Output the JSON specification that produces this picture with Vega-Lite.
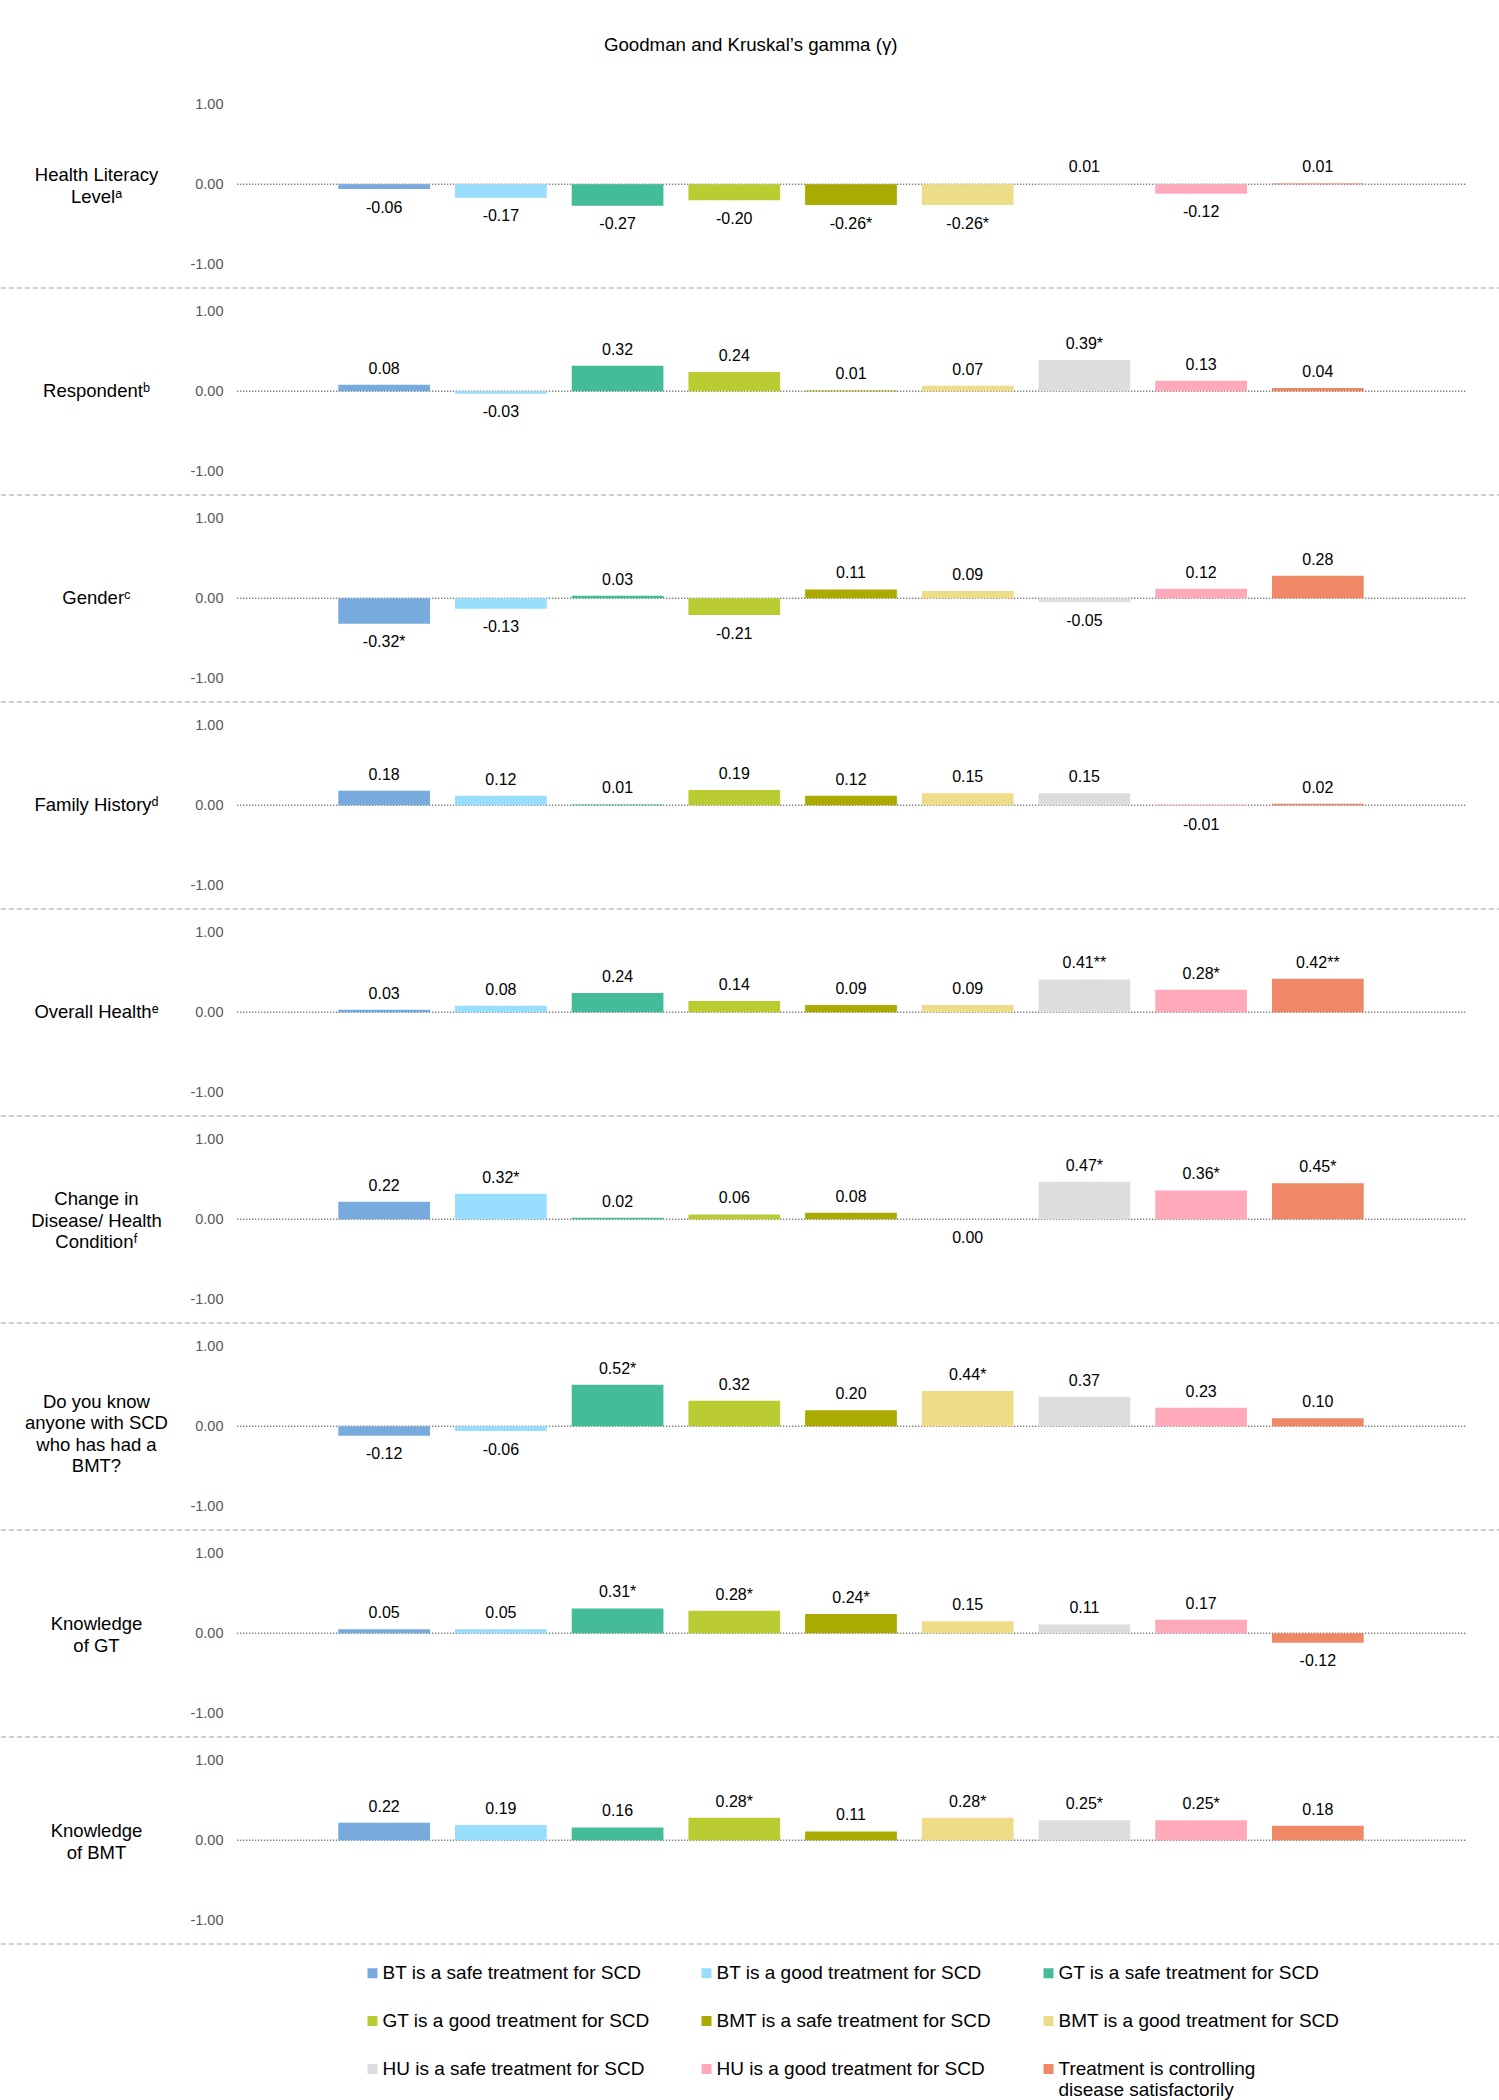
{
  "$schema": "https://vega.github.io/schema/vega-lite/v6.json",
  "padding": {"top": 35, "left": 0, "right": 0, "bottom": 0},
  "title": {"text": "Goodman and Kruskal’s gamma (γ)", "fontSize": 18.7, "fontWeight": "normal", "font": "Liberation Sans", "color": "#000000", "anchor": "middle", "offset": 26.5},
  "data": {"values": [
    {"factor": "Health Literacy\nLevelᵃ", "treatment": "BT is a safe treatment for SCD", "gamma": -0.06, "label": "-0.06"},
    {"factor": "Health Literacy\nLevelᵃ", "treatment": "BT is a good treatment for SCD", "gamma": -0.17, "label": "-0.17"},
    {"factor": "Health Literacy\nLevelᵃ", "treatment": "GT is a safe treatment for SCD", "gamma": -0.27, "label": "-0.27"},
    {"factor": "Health Literacy\nLevelᵃ", "treatment": "GT is a good treatment for SCD", "gamma": -0.20, "label": "-0.20"},
    {"factor": "Health Literacy\nLevelᵃ", "treatment": "BMT is a safe treatment for SCD", "gamma": -0.26, "label": "-0.26*"},
    {"factor": "Health Literacy\nLevelᵃ", "treatment": "BMT is a good treatment for SCD", "gamma": -0.26, "label": "-0.26*"},
    {"factor": "Health Literacy\nLevelᵃ", "treatment": "HU is a safe treatment for SCD", "gamma": 0.01, "label": "0.01"},
    {"factor": "Health Literacy\nLevelᵃ", "treatment": "HU is a good treatment for SCD", "gamma": -0.12, "label": "-0.12"},
    {"factor": "Health Literacy\nLevelᵃ", "treatment": "Treatment is controlling disease satisfactorily", "gamma": 0.01, "label": "0.01"},
    {"factor": "Respondentᵇ", "treatment": "BT is a safe treatment for SCD", "gamma": 0.08, "label": "0.08"},
    {"factor": "Respondentᵇ", "treatment": "BT is a good treatment for SCD", "gamma": -0.03, "label": "-0.03"},
    {"factor": "Respondentᵇ", "treatment": "GT is a safe treatment for SCD", "gamma": 0.32, "label": "0.32"},
    {"factor": "Respondentᵇ", "treatment": "GT is a good treatment for SCD", "gamma": 0.24, "label": "0.24"},
    {"factor": "Respondentᵇ", "treatment": "BMT is a safe treatment for SCD", "gamma": 0.01, "label": "0.01"},
    {"factor": "Respondentᵇ", "treatment": "BMT is a good treatment for SCD", "gamma": 0.07, "label": "0.07"},
    {"factor": "Respondentᵇ", "treatment": "HU is a safe treatment for SCD", "gamma": 0.39, "label": "0.39*"},
    {"factor": "Respondentᵇ", "treatment": "HU is a good treatment for SCD", "gamma": 0.13, "label": "0.13"},
    {"factor": "Respondentᵇ", "treatment": "Treatment is controlling disease satisfactorily", "gamma": 0.04, "label": "0.04"},
    {"factor": "Genderᶜ", "treatment": "BT is a safe treatment for SCD", "gamma": -0.32, "label": "-0.32*"},
    {"factor": "Genderᶜ", "treatment": "BT is a good treatment for SCD", "gamma": -0.13, "label": "-0.13"},
    {"factor": "Genderᶜ", "treatment": "GT is a safe treatment for SCD", "gamma": 0.03, "label": "0.03"},
    {"factor": "Genderᶜ", "treatment": "GT is a good treatment for SCD", "gamma": -0.21, "label": "-0.21"},
    {"factor": "Genderᶜ", "treatment": "BMT is a safe treatment for SCD", "gamma": 0.11, "label": "0.11"},
    {"factor": "Genderᶜ", "treatment": "BMT is a good treatment for SCD", "gamma": 0.09, "label": "0.09"},
    {"factor": "Genderᶜ", "treatment": "HU is a safe treatment for SCD", "gamma": -0.05, "label": "-0.05"},
    {"factor": "Genderᶜ", "treatment": "HU is a good treatment for SCD", "gamma": 0.12, "label": "0.12"},
    {"factor": "Genderᶜ", "treatment": "Treatment is controlling disease satisfactorily", "gamma": 0.28, "label": "0.28"},
    {"factor": "Family Historyᵈ", "treatment": "BT is a safe treatment for SCD", "gamma": 0.18, "label": "0.18"},
    {"factor": "Family Historyᵈ", "treatment": "BT is a good treatment for SCD", "gamma": 0.12, "label": "0.12"},
    {"factor": "Family Historyᵈ", "treatment": "GT is a safe treatment for SCD", "gamma": 0.01, "label": "0.01"},
    {"factor": "Family Historyᵈ", "treatment": "GT is a good treatment for SCD", "gamma": 0.19, "label": "0.19"},
    {"factor": "Family Historyᵈ", "treatment": "BMT is a safe treatment for SCD", "gamma": 0.12, "label": "0.12"},
    {"factor": "Family Historyᵈ", "treatment": "BMT is a good treatment for SCD", "gamma": 0.15, "label": "0.15"},
    {"factor": "Family Historyᵈ", "treatment": "HU is a safe treatment for SCD", "gamma": 0.15, "label": "0.15"},
    {"factor": "Family Historyᵈ", "treatment": "HU is a good treatment for SCD", "gamma": -0.01, "label": "-0.01"},
    {"factor": "Family Historyᵈ", "treatment": "Treatment is controlling disease satisfactorily", "gamma": 0.02, "label": "0.02"},
    {"factor": "Overall Healthᵉ", "treatment": "BT is a safe treatment for SCD", "gamma": 0.03, "label": "0.03"},
    {"factor": "Overall Healthᵉ", "treatment": "BT is a good treatment for SCD", "gamma": 0.08, "label": "0.08"},
    {"factor": "Overall Healthᵉ", "treatment": "GT is a safe treatment for SCD", "gamma": 0.24, "label": "0.24"},
    {"factor": "Overall Healthᵉ", "treatment": "GT is a good treatment for SCD", "gamma": 0.14, "label": "0.14"},
    {"factor": "Overall Healthᵉ", "treatment": "BMT is a safe treatment for SCD", "gamma": 0.09, "label": "0.09"},
    {"factor": "Overall Healthᵉ", "treatment": "BMT is a good treatment for SCD", "gamma": 0.09, "label": "0.09"},
    {"factor": "Overall Healthᵉ", "treatment": "HU is a safe treatment for SCD", "gamma": 0.41, "label": "0.41**"},
    {"factor": "Overall Healthᵉ", "treatment": "HU is a good treatment for SCD", "gamma": 0.28, "label": "0.28*"},
    {"factor": "Overall Healthᵉ", "treatment": "Treatment is controlling disease satisfactorily", "gamma": 0.42, "label": "0.42**"},
    {"factor": "Change in\nDisease/ Health\nConditionᶠ", "treatment": "BT is a safe treatment for SCD", "gamma": 0.22, "label": "0.22"},
    {"factor": "Change in\nDisease/ Health\nConditionᶠ", "treatment": "BT is a good treatment for SCD", "gamma": 0.32, "label": "0.32*"},
    {"factor": "Change in\nDisease/ Health\nConditionᶠ", "treatment": "GT is a safe treatment for SCD", "gamma": 0.02, "label": "0.02"},
    {"factor": "Change in\nDisease/ Health\nConditionᶠ", "treatment": "GT is a good treatment for SCD", "gamma": 0.06, "label": "0.06"},
    {"factor": "Change in\nDisease/ Health\nConditionᶠ", "treatment": "BMT is a safe treatment for SCD", "gamma": 0.08, "label": "0.08"},
    {"factor": "Change in\nDisease/ Health\nConditionᶠ", "treatment": "BMT is a good treatment for SCD", "gamma": 0.00, "label": "0.00"},
    {"factor": "Change in\nDisease/ Health\nConditionᶠ", "treatment": "HU is a safe treatment for SCD", "gamma": 0.47, "label": "0.47*"},
    {"factor": "Change in\nDisease/ Health\nConditionᶠ", "treatment": "HU is a good treatment for SCD", "gamma": 0.36, "label": "0.36*"},
    {"factor": "Change in\nDisease/ Health\nConditionᶠ", "treatment": "Treatment is controlling disease satisfactorily", "gamma": 0.45, "label": "0.45*"},
    {"factor": "Do you know\nanyone with SCD\nwho has had a\nBMT?", "treatment": "BT is a safe treatment for SCD", "gamma": -0.12, "label": "-0.12"},
    {"factor": "Do you know\nanyone with SCD\nwho has had a\nBMT?", "treatment": "BT is a good treatment for SCD", "gamma": -0.06, "label": "-0.06"},
    {"factor": "Do you know\nanyone with SCD\nwho has had a\nBMT?", "treatment": "GT is a safe treatment for SCD", "gamma": 0.52, "label": "0.52*"},
    {"factor": "Do you know\nanyone with SCD\nwho has had a\nBMT?", "treatment": "GT is a good treatment for SCD", "gamma": 0.32, "label": "0.32"},
    {"factor": "Do you know\nanyone with SCD\nwho has had a\nBMT?", "treatment": "BMT is a safe treatment for SCD", "gamma": 0.20, "label": "0.20"},
    {"factor": "Do you know\nanyone with SCD\nwho has had a\nBMT?", "treatment": "BMT is a good treatment for SCD", "gamma": 0.44, "label": "0.44*"},
    {"factor": "Do you know\nanyone with SCD\nwho has had a\nBMT?", "treatment": "HU is a safe treatment for SCD", "gamma": 0.37, "label": "0.37"},
    {"factor": "Do you know\nanyone with SCD\nwho has had a\nBMT?", "treatment": "HU is a good treatment for SCD", "gamma": 0.23, "label": "0.23"},
    {"factor": "Do you know\nanyone with SCD\nwho has had a\nBMT?", "treatment": "Treatment is controlling disease satisfactorily", "gamma": 0.10, "label": "0.10"},
    {"factor": "Knowledge\nof GT", "treatment": "BT is a safe treatment for SCD", "gamma": 0.05, "label": "0.05"},
    {"factor": "Knowledge\nof GT", "treatment": "BT is a good treatment for SCD", "gamma": 0.05, "label": "0.05"},
    {"factor": "Knowledge\nof GT", "treatment": "GT is a safe treatment for SCD", "gamma": 0.31, "label": "0.31*"},
    {"factor": "Knowledge\nof GT", "treatment": "GT is a good treatment for SCD", "gamma": 0.28, "label": "0.28*"},
    {"factor": "Knowledge\nof GT", "treatment": "BMT is a safe treatment for SCD", "gamma": 0.24, "label": "0.24*"},
    {"factor": "Knowledge\nof GT", "treatment": "BMT is a good treatment for SCD", "gamma": 0.15, "label": "0.15"},
    {"factor": "Knowledge\nof GT", "treatment": "HU is a safe treatment for SCD", "gamma": 0.11, "label": "0.11"},
    {"factor": "Knowledge\nof GT", "treatment": "HU is a good treatment for SCD", "gamma": 0.17, "label": "0.17"},
    {"factor": "Knowledge\nof GT", "treatment": "Treatment is controlling disease satisfactorily", "gamma": -0.12, "label": "-0.12"},
    {"factor": "Knowledge\nof BMT", "treatment": "BT is a safe treatment for SCD", "gamma": 0.22, "label": "0.22"},
    {"factor": "Knowledge\nof BMT", "treatment": "BT is a good treatment for SCD", "gamma": 0.19, "label": "0.19"},
    {"factor": "Knowledge\nof BMT", "treatment": "GT is a safe treatment for SCD", "gamma": 0.16, "label": "0.16"},
    {"factor": "Knowledge\nof BMT", "treatment": "GT is a good treatment for SCD", "gamma": 0.28, "label": "0.28*"},
    {"factor": "Knowledge\nof BMT", "treatment": "BMT is a safe treatment for SCD", "gamma": 0.11, "label": "0.11"},
    {"factor": "Knowledge\nof BMT", "treatment": "BMT is a good treatment for SCD", "gamma": 0.28, "label": "0.28*"},
    {"factor": "Knowledge\nof BMT", "treatment": "HU is a safe treatment for SCD", "gamma": 0.25, "label": "0.25*"},
    {"factor": "Knowledge\nof BMT", "treatment": "HU is a good treatment for SCD", "gamma": 0.25, "label": "0.25*"},
    {"factor": "Knowledge\nof BMT", "treatment": "Treatment is controlling disease satisfactorily", "gamma": 0.18, "label": "0.18"}
  ]},
  "facet": {
    "row": {
      "field": "factor", "type": "nominal", "header": null, "title": null,
      "sort": ["Health Literacy\nLevelᵃ", "Respondentᵇ", "Genderᶜ", "Family Historyᵈ", "Overall Healthᵉ", "Change in\nDisease/ Health\nConditionᶠ", "Do you know\nanyone with SCD\nwho has had a\nBMT?", "Knowledge\nof GT", "Knowledge\nof BMT"]
    }
  },
  "spacing": 0,
  "bounds": "flush",
  "spec": {
    "width": 1499,
    "height": 207,
    "encoding": {
      "x": {
        "field": "treatment", "type": "nominal", "axis": null,
        "sort": ["BT is a safe treatment for SCD", "BT is a good treatment for SCD", "GT is a safe treatment for SCD", "GT is a good treatment for SCD", "BMT is a safe treatment for SCD", "BMT is a good treatment for SCD", "HU is a safe treatment for SCD", "HU is a good treatment for SCD", "Treatment is controlling disease satisfactorily"],
        "scale": {"range": [236, 1464], "paddingInner": 0.214, "paddingOuter": 0.868, "align": 0.495}
      }
    },
    "layer": [
      {
        "transform": [{"filter": "datum.treatment == 'BT is a safe treatment for SCD'"}],
        "mark": {"type": "rule", "strokeDash": [1.2, 1.8], "strokeWidth": 1.4, "color": "#737373"},
        "encoding": {
          "x": {"datum": "BT is a safe treatment for SCD", "bandPosition": -1.103},
          "x2": {"datum": "Treatment is controlling disease satisfactorily", "bandPosition": 2.115},
          "y": {"datum": 0, "type": "quantitative"}
        }
      },
      {
        "mark": {"type": "bar"},
        "encoding": {
          "y": {
            "field": "gamma", "type": "quantitative",
            "scale": {"domain": [-1.296, 1.29], "nice": false, "zero": false},
            "axis": {"values": [-1, 0, 1], "format": ".2f", "labelExpr": "replace(datum.label, '−', '-')", "domain": false, "ticks": false, "grid": false, "title": null, "orient": "left", "offset": -226, "labelPadding": 5, "labelFontSize": 14.5, "labelColor": "#595959", "labelFont": "Liberation Sans"}
          },
          "y2": {"datum": 0},
          "color": {
            "field": "treatment", "type": "nominal",
            "scale": {
              "domain": ["BT is a safe treatment for SCD", "BT is a good treatment for SCD", "GT is a safe treatment for SCD", "GT is a good treatment for SCD", "BMT is a safe treatment for SCD", "BMT is a good treatment for SCD", "HU is a safe treatment for SCD", "HU is a good treatment for SCD", "Treatment is controlling disease satisfactorily"],
              "range": ["#77AADD", "#99DDFF", "#44BB99", "#BBCC33", "#AAAA00", "#EEDD88", "#DDDDDD", "#FFAABB", "#EE8866"]
            },
            "legend": {
              "title": null, "orient": "none", "legendX": 361, "legendY": 1882.5, "columns": 3, "direction": "horizontal",
              "gridAlign": "each", "columnPadding": 47, "rowPadding": 28, "symbolType": "square", "symbolSize": 100, "symbolStrokeWidth": 0,
              "labelFontSize": 19, "labelFont": "Liberation Sans", "labelColor": "#000000", "labelOffset": 0.5, "labelLimit": 400, "labelLineHeight": 22, "labelBaseline": "middle",
              "labelExpr": "datum.label == 'Treatment is controlling disease satisfactorily' ? ['Treatment is controlling', 'disease satisfactorily'] : datum.label"
            }
          }
        }
      },
      {
        "transform": [{"filter": "datum.treatment == 'BT is a safe treatment for SCD'"}],
        "mark": {"type": "rule", "strokeDash": [5, 3], "strokeWidth": 1.6, "color": "#BFBFBF"},
        "encoding": {
          "x": {"datum": "BT is a safe treatment for SCD", "bandPosition": -3.678},
          "x2": {"datum": "Treatment is controlling disease satisfactorily", "bandPosition": 2.491},
          "y": {"datum": -1.296, "type": "quantitative"}
        }
      },
      {
        "transform": [{"filter": "datum.treatment == 'BT is a safe treatment for SCD' && length(split(datum.factor, '\\n')) == 1"}],
        "mark": {"type": "text", "fontSize": 18.5, "font": "Liberation Sans", "color": "#000000", "align": "center", "baseline": "middle", "lineBreak": "\n", "lineHeight": 21.4},
        "encoding": {
          "x": {"field": "treatment", "type": "nominal", "bandPosition": -2.636},
          "y": {"datum": 0, "type": "quantitative"},
          "text": {"field": "factor"}
        }
      },
      {
        "transform": [{"filter": "datum.treatment == 'BT is a safe treatment for SCD' && length(split(datum.factor, '\\n')) == 2"}],
        "mark": {"type": "text", "fontSize": 18.5, "font": "Liberation Sans", "color": "#000000", "align": "center", "baseline": "middle", "lineBreak": "\n", "lineHeight": 21.4, "dy": -9},
        "encoding": {
          "x": {"field": "treatment", "type": "nominal", "bandPosition": -2.636},
          "y": {"datum": 0, "type": "quantitative"},
          "text": {"field": "factor"}
        }
      },
      {
        "transform": [{"filter": "datum.treatment == 'BT is a safe treatment for SCD' && length(split(datum.factor, '\\n')) == 3"}],
        "mark": {"type": "text", "fontSize": 18.5, "font": "Liberation Sans", "color": "#000000", "align": "center", "baseline": "middle", "lineBreak": "\n", "lineHeight": 21.4, "dy": -20},
        "encoding": {
          "x": {"field": "treatment", "type": "nominal", "bandPosition": -2.636},
          "y": {"datum": 0, "type": "quantitative"},
          "text": {"field": "factor"}
        }
      },
      {
        "transform": [{"filter": "datum.treatment == 'BT is a safe treatment for SCD' && length(split(datum.factor, '\\n')) == 4"}],
        "mark": {"type": "text", "fontSize": 18.5, "font": "Liberation Sans", "color": "#000000", "align": "center", "baseline": "middle", "lineBreak": "\n", "lineHeight": 21.4, "dy": -24.5},
        "encoding": {
          "x": {"field": "treatment", "type": "nominal", "bandPosition": -2.636},
          "y": {"datum": 0, "type": "quantitative"},
          "text": {"field": "factor"}
        }
      },
      {
        "transform": [{"filter": "datum.gamma > 0"}],
        "mark": {"type": "text", "fontSize": 16, "font": "Liberation Sans", "color": "#000000", "align": "center", "baseline": "alphabetic", "dy": -11},
        "encoding": {
          "y": {"field": "gamma", "type": "quantitative"},
          "text": {"field": "label"}
        }
      },
      {
        "transform": [{"filter": "datum.gamma <= 0"}],
        "mark": {"type": "text", "fontSize": 16, "font": "Liberation Sans", "color": "#000000", "align": "center", "baseline": "alphabetic", "dy": 23.5},
        "encoding": {
          "y": {"field": "gamma", "type": "quantitative"},
          "text": {"field": "label"}
        }
      }
    ]
  },
  "config": {"view": {"stroke": null}, "font": "Liberation Sans"}
}
